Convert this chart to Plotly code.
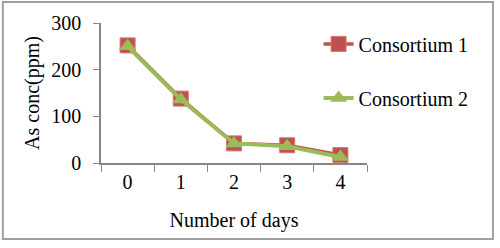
import plotly.graph_objects as go

days = ["0", "1", "2", "3", "4"]
consortium1 = [252, 138, 42, 38, 17]
consortium2 = [250, 136, 42, 36, 13]
y_ticks = [0, 100, 200, 300]

FONT = "Liberation Serif, Times New Roman, serif"
AXIS = "#878787"
TF = dict(family=FONT, size=20, color="black")

fig = go.Figure()
fig.add_trace(go.Scatter(
    x=days, y=consortium1, name="Consortium 1", mode="lines+markers",
    legendgroup="c1",
    line=dict(color="#C0504D", width=3.5),
    marker=dict(symbol="square", size=15, color="#C0504D",
                line=dict(color="#D97472", width=1)),
))
fig.add_trace(go.Scatter(
    x=days, y=consortium2, name="Consortium 2", mode="lines+markers",
    legendgroup="c2",
    line=dict(color="#9BBB59", width=4),
    marker=dict(symbol="triangle-up", size=15, color="#9BBB59"),
))

fig.update_layout(
    width=500, height=248,
    margin=dict(l=101, r=133, t=23, b=85, autoexpand=False),
    paper_bgcolor="white", plot_bgcolor="white",
    font=TF,
    showlegend=True,
    legend=dict(x=0.818, y=0.99, xanchor="left", yanchor="top",
                bgcolor="rgba(0,0,0,0)", traceorder="grouped",
                tracegroupgap=25, font=TF),
    xaxis=dict(
        type="category", range=[-0.5, 4.5], automargin=False,
        showline=True, linecolor=AXIS, linewidth=1.5,
        ticks="outside", tickson="boundaries", ticklen=7, tickcolor=AXIS,
        tickfont=TF,
        showgrid=False, zeroline=False,
        title=dict(text="Number of days", standoff=21, font=TF),
    ),
    yaxis=dict(
        range=[0, 300], tickvals=y_ticks, automargin=False,
        showline=True, linecolor=AXIS, linewidth=1.5,
        ticks="outside", ticklen=6, tickcolor=AXIS,
        ticklabelstandoff=8, tickfont=TF,
        showgrid=False, zeroline=False,
        title=dict(text="As conc(ppm)", standoff=6, font=TF),
    ),
)

fig.add_shape(type="rect", xref="paper", yref="paper",
              x0=-0.369, x1=1.4735, y0=-0.543, y1=1.15,
              line=dict(color="#A0A0A0", width=2), layer="below")

fig.write_html(
    "out.html",
    config={"displayModeBar": False},
    post_script="document.body.style.margin='0';document.body.style.overflow='hidden';",
)
